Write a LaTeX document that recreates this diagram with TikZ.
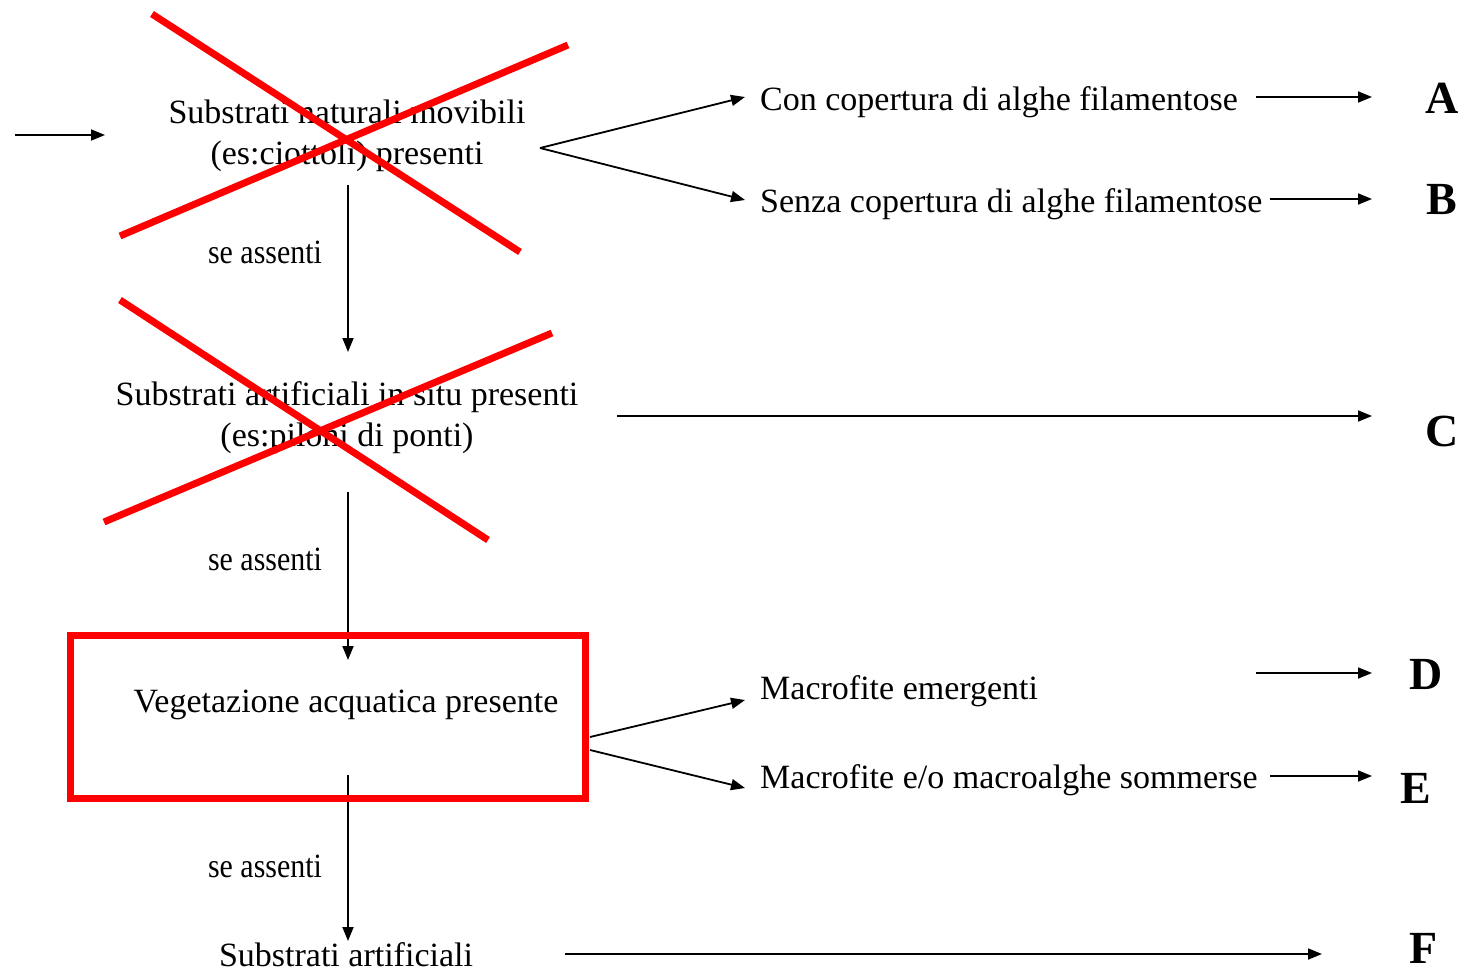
\documentclass[tikz,border=0pt]{standalone}
\usepackage{fontspec}
\setmainfont{Liberation Serif}
\usetikzlibrary{arrows.meta}
\begin{document}
\begin{tikzpicture}[x=1pt,y=-1pt,
  txt/.style={inner sep=0pt,font=\fontsize{34}{41}\selectfont,align=center},
  ltxt/.style={inner sep=0pt,font=\fontsize{34}{41}\selectfont,anchor=west},
  lbl/.style={inner sep=0pt,font=\fontsize{34}{41}\selectfont,xscale=0.88},
  letter/.style={inner sep=0pt,font=\fontsize{46}{50}\selectfont\bfseries},
  arr/.style={line width=1.8pt,-{Triangle[length=14pt,width=11pt]}},
  cross/.style={draw=red,line width=7pt},
  redbox/.style={draw=red,line width=7pt}]
\useasboundingbox (0,0) rectangle (1466,974);

% nodes
\node[txt] (n1) at (347,136) {Substrati naturali movibili\\(es:ciottoli) presenti};
\node[txt] (n2) at (347,418) {Substrati artificiali in situ presenti\\(es:piloni di ponti)};
\node[txt] (n3) at (346,705) {Vegetazione acquatica presente};
\node[txt] (n4) at (346,955) {Substrati artificiali};

\node[ltxt] (ta) at (760,102) {Con copertura di alghe filamentose};
\node[ltxt] (tb) at (760,204) {Senza copertura di alghe filamentose};
\node[ltxt] (td) at (760,691) {Macrofite emergenti};
\node[ltxt] (te) at (760,780) {Macrofite e/o macroalghe sommerse};

\node[letter] (A) at (1442,98) {A};
\node[letter] (B) at (1442,200) {B};
\node[letter] (C) at (1442,431) {C};
\node[letter] (D) at (1426,674) {D};
\node[letter] (E) at (1416,788) {E};
\node[letter] (F) at (1424,948) {F};

\node[lbl] (s1) at (265,252) {se assenti};
\node[lbl] (s2) at (265,559) {se assenti};
\node[lbl] (s3) at (265,866) {se assenti};

% coordinates
\coordinate (in0) at (15,135);
\coordinate (in1) at (105,135);
\coordinate (b1) at (540,148);
\coordinate (b1a) at (745,97);
\coordinate (b1b) at (745,200);
\coordinate (b2a0) at (590,737);
\coordinate (b2b0) at (590,750);
\coordinate (b2a) at (745,700);
\coordinate (b2b) at (745,788);
\coordinate (v1a) at (348,185);
\coordinate (v1b) at (348,352);
\coordinate (v2a) at (348,492);
\coordinate (v2b) at (348,660);
\coordinate (v3a) at (348,775);
\coordinate (v3b) at (348,941);
\coordinate (ae0) at (1256,97);
\coordinate (ae1) at (1372,97);
\coordinate (be0) at (1270,199);
\coordinate (be1) at (1372,199);
\coordinate (ce0) at (617,416);
\coordinate (ce1) at (1372,416);
\coordinate (de0) at (1256,673);
\coordinate (de1) at (1372,673);
\coordinate (ee0) at (1270,776);
\coordinate (ee1) at (1372,776);
\coordinate (fe0) at (565,954);
\coordinate (fe1) at (1322,954);

% connectors
\draw[arr] (in0) -- (in1);
\draw[arr] (b1) -- (b1a);
\draw[arr] (b1) -- (b1b);
\draw[arr] (b2a0) -- (b2a);
\draw[arr] (b2b0) -- (b2b);
\draw[arr] (v1a) -- (v1b);
\draw[arr] (v2a) -- (v2b);
\draw[arr] (v3a) -- (v3b);
\draw[arr] (ae0) -- (ae1);
\draw[arr] (be0) -- (be1);
\draw[arr] (ce0) -- (ce1);
\draw[arr] (de0) -- (de1);
\draw[arr] (ee0) -- (ee1);
\draw[arr] (fe0) -- (fe1);

% red crosses
\draw[cross] (152,14) -- (520,252);
\draw[cross] (120,236) -- (568,45);
\draw[cross] (120,300) -- (488,540);
\draw[cross] (104,522) -- (552,333);
% red box
\draw[redbox] (70,635) rectangle (585,798);
\end{tikzpicture}
\end{document}
